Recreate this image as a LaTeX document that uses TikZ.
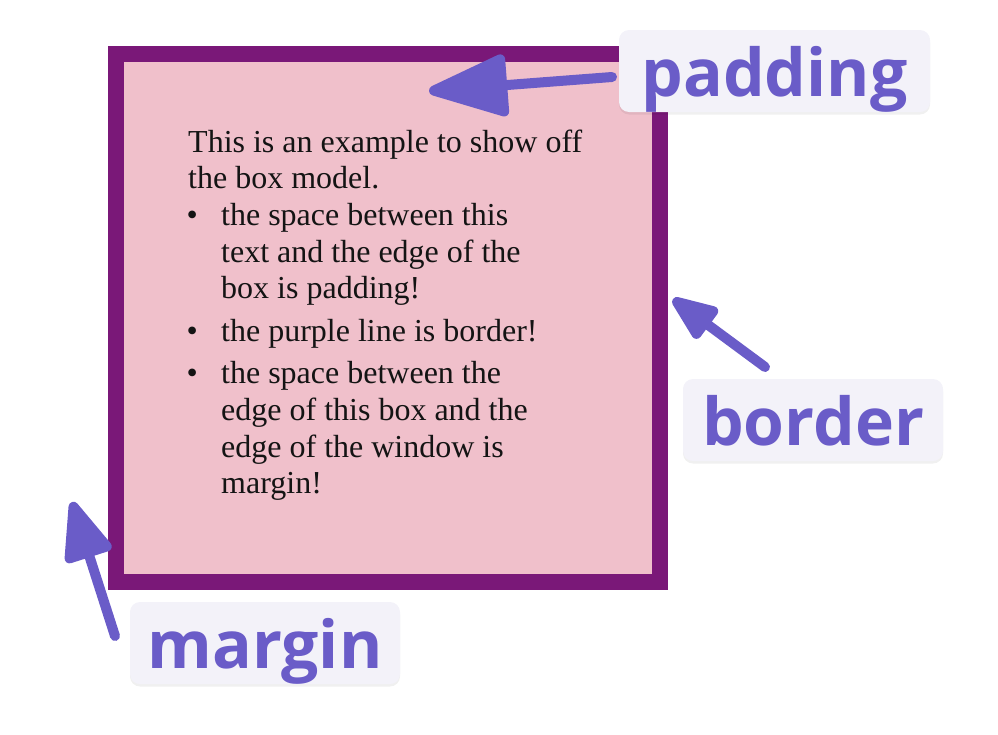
\documentclass[tikz,border=0pt]{standalone}
\usepackage{fontspec}
\setmainfont{Liberation Serif}
\newfontfamily\labelfont{Open Sans}
\usetikzlibrary{arrows.meta,shadows}
\definecolor{boxpurple}{RGB}{122,24,120}
\definecolor{boxpink}{RGB}{240,192,203}
\definecolor{slate}{RGB}{106,92,200}
\definecolor{labelbg}{RGB}{243,242,249}
\tikzset{
  line/.style={anchor=base west, inner sep=0pt, font=\fontsize{32}{36.8}\selectfont, text=black!92},
  tag/.style={fill=labelbg, rounded corners=10pt, inner xsep=0pt, inner ysep=0pt,
    text height=66pt, text depth=16pt, align=center, text=slate,
    font=\labelfont\bfseries\fontsize{66}{70}\selectfont,
    drop shadow={shadow xshift=0pt, shadow yshift=-2.5pt, opacity=0.06, fill=black}},
  pointer/.style={draw=slate, line width=10pt, line cap=round}
}
\begin{document}
\begin{tikzpicture}[x=1pt,y=-1pt]
\useasboundingbox (0,0) rectangle (998,734);
% the box
\draw[boxpurple, line width=16pt, fill=boxpink] (116,54) rectangle (660,582);
% text
\node[line] (l1) at (188,152) {This is an example to show off};
\node[line] (l2) at (188,188) {the box model.};
\node[line] (l3) at (221,225) {\llap{•\hspace{23.4pt}}the space between this};
\node[line] (l4) at (221,262) {text and the edge of the};
\node[line] (l5) at (221,298) {box is padding!};
\node[line] (l6) at (221,341) {\llap{•\hspace{23.4pt}}the purple line is border!};
\node[line] (l7) at (221,383) {\llap{•\hspace{23.4pt}}the space between the};
\node[line] (l8) at (221,420) {edge of this box and the};
\node[line] (l9) at (221,457) {edge of the window is};
\node[line] (l10) at (221,493) {margin!};
% labels
\node[tag, minimum width=311pt] (padding) at (774.5,96) [anchor=base] {padding};
\node[tag, minimum width=260pt] (border) at (813,445) [anchor=base] {border};
\node[tag, minimum width=270pt] (margin) at (265,668) [anchor=base] {margin};
% arrow ends
\coordinate (padtail) at (612,77);
\coordinate (padtip) at (429,91);
\coordinate (bortail) at (765,367);
\coordinate (bortip) at (673,299);
\coordinate (martail) at (115,636);
\coordinate (martip) at (72,502);
\draw[pointer, -{Triangle[length=88pt, width=64pt, round]}, fill=slate] (padtail) -- (padtip);
\draw[pointer, -{Triangle[length=54pt, width=40pt, round]}, fill=slate] (bortail) -- (bortip);
\draw[pointer, -{Triangle[length=67pt, width=51pt, round]}, fill=slate] (martail) -- (martip);
\end{tikzpicture}
\end{document}
